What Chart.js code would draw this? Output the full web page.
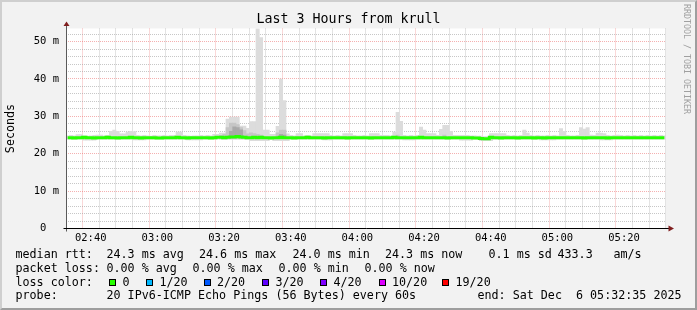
<!DOCTYPE html>
<html>
<head>
<meta charset="utf-8">
<title>Last 3 Hours from krull</title>
<script src="https://cdn.jsdelivr.net/npm/chart.js@4.4.1/dist/chart.umd.min.js"></script>
<style>
  html, body { margin: 0; padding: 0; background: #f2f2f2; }
  #wrap { position: relative; width: 697px; height: 310px; overflow: hidden; }
  #frame { position: absolute; left: 0; top: 0; width: 697px; height: 310px; box-sizing: border-box;
           border: 2px solid; border-color: #cfcfcf #9e9e9e #9e9e9e #cfcfcf; background: #f2f2f2; }
  canvas { position: absolute; left: 0; top: 0; }
  .t { position: absolute; font-family: 'DejaVu Sans Mono', monospace; font-size: 11.7px; line-height: 14px;
       white-space: pre; color: #000; }
  #title { left: 0; width: 697px; top: 11px; text-align: center; font-size: 13.3px; line-height: 16px; }
  #mark { left: 682px; top: 4px; writing-mode: vertical-rl; font-size: 8.3px; line-height: 10px; color: #a0a0a0; }
  .box { position: absolute; width: 5px; height: 5px; border: 1px solid #000; }
</style>
</head>
<body>
<div id="wrap">
  <div id="frame"></div>
  <canvas id="chart" width="697" height="310"></canvas>
  <div class="t" id="title">Last 3 Hours from krull</div>
  <div class="t" id="mark">RRDTOOL / TOBI OETIKER</div>
</div>
<script>
// debut du graphe : 02:32:35, un point par minute (180 points)
const startClock = "02:32:35";
const tickLabels = ["02:40", "03:00", "03:20", "03:40", "04:00", "04:20", "04:40", "05:00", "05:20"];

// median rtt (ms)
const median = [
  24.3, 24.3, 24.2, 24.3, 24.3, 24.4, 24.3, 24.3, 24.2, 24.3, 24.3, 24.3, 24.4, 24.3, 24.3, 24.2, 24.3, 24.3, 24.3, 24.4,
  24.3, 24.3, 24.2, 24.3, 24.3, 24.3, 24.3, 24.2, 24.2, 24.3, 24.3, 24.3, 24.3, 24.4, 24.3, 24.3, 24.2, 24.3, 24.3, 24.3,
  24.3, 24.3, 24.3, 24.2, 24.3, 24.4, 24.4, 24.3, 24.4, 24.5, 24.5, 24.6, 24.5, 24.4, 24.3, 24.3, 24.4, 24.3, 24.4, 24.3,
  24.3, 24.2, 24.3, 24.3, 24.4, 24.3, 24.3, 24.3, 24.2, 24.3, 24.3, 24.3, 24.4, 24.3, 24.3, 24.3, 24.3, 24.2, 24.3, 24.3,
  24.3, 24.3, 24.3, 24.3, 24.2, 24.3, 24.3, 24.3, 24.3, 24.3, 24.3, 24.2, 24.3, 24.3, 24.3, 24.3, 24.3, 24.3, 24.4, 24.3,
  24.3, 24.3, 24.3, 24.3, 24.3, 24.3, 24.4, 24.3, 24.3, 24.3, 24.3, 24.3, 24.3, 24.3, 24.2, 24.3, 24.3, 24.3, 24.3, 24.3,
  24.3, 24.3, 24.2, 24.2, 24.1, 24.0, 24.0, 24.4, 24.3, 24.3, 24.2, 24.3, 24.3, 24.3, 24.3, 24.2, 24.3, 24.3, 24.3, 24.3,
  24.2, 24.3, 24.3, 24.2, 24.3, 24.3, 24.3, 24.3, 24.3, 24.3, 24.3, 24.3, 24.3, 24.3, 24.3, 24.2, 24.3, 24.3, 24.3, 24.3,
  24.3, 24.3, 24.2, 24.3, 24.3, 24.3, 24.3, 24.3, 24.3, 24.3, 24.3, 24.3, 24.3, 24.3, 24.3, 24.3, 24.3, 24.3, 24.3, 24.3
];

// fumee : ping le plus haut et le plus bas de chaque minute (ms)
const smokeHi = [
  24.8, 24.9, 24.8, 25.1, 25.1, 24.8, 24.7, 24.8, 24.9, 25.0, 25.0, 24.8, 24.9, 26.0, 26.3, 26.0, 25.3, 25.3, 25.8, 26.0,
  25.9, 24.9, 24.8, 24.9, 24.8, 24.7, 24.9, 24.8, 24.8, 24.9, 24.8, 24.9, 24.9, 25.8, 25.8, 24.9, 24.8, 24.7, 24.8, 24.8,
  24.9, 24.8, 24.9, 24.8, 25.2, 25.2, 25.5, 25.5, 29.3, 29.8, 29.8, 29.8, 27.4, 27.4, 26.8, 28.6, 28.6, 53.5, 51.1, 26.3,
  26.3, 25.2, 25.2, 27.3, 40.0, 34.2, 25.3, 24.9, 24.8, 25.4, 25.4, 24.8, 24.9, 24.8, 25.4, 25.4, 25.4, 25.4, 25.4, 24.9,
  24.8, 24.9, 24.8, 25.4, 25.4, 25.4, 24.9, 24.8, 24.8, 24.9, 24.8, 25.4, 25.4, 25.4, 24.9, 24.9, 24.9, 24.8, 25.8, 31.1,
  28.7, 24.9, 24.8, 24.9, 24.8, 24.9, 27.1, 26.3, 25.4, 25.4, 25.4, 24.9, 26.5, 27.6, 27.6, 26.0, 24.9, 24.9, 24.9, 24.9,
  24.9, 24.8, 24.8, 24.7, 24.7, 24.6, 24.6, 25.4, 25.4, 25.4, 25.4, 25.4, 24.9, 24.8, 24.9, 24.8, 24.9, 26.3, 25.5, 24.9,
  24.8, 24.9, 24.8, 24.8, 24.9, 24.8, 24.9, 24.8, 26.7, 26.0, 24.9, 24.8, 24.8, 24.9, 27.0, 26.6, 27.0, 25.0, 24.9, 25.5,
  25.5, 25.4, 24.9, 24.8, 24.9, 25.0, 24.9, 24.8, 24.9, 24.8, 24.9, 24.8, 24.9, 24.8, 24.9, 24.8, 24.9, 24.8, 24.9, 24.8
];
const smokeLo = [
  23.9, 23.9, 23.9, 23.9, 23.9, 23.6, 23.6, 23.6, 23.6, 23.9, 23.9, 23.9, 23.9, 23.9, 23.9, 23.9, 23.9, 23.9, 23.9, 23.9,
  23.7, 23.7, 23.7, 23.7, 23.9, 23.9, 23.9, 23.9, 23.9, 23.9, 23.9, 23.9, 23.9, 23.9, 23.9, 23.9, 23.7, 23.7, 23.7, 23.7,
  23.7, 23.9, 23.9, 23.9, 23.9, 23.9, 23.8, 23.8, 23.8, 23.8, 23.8, 23.8, 23.8, 23.8, 23.8, 23.5, 23.5, 23.5, 23.5, 23.5,
  23.5, 23.9, 23.5, 23.5, 23.5, 23.5, 23.5, 23.9, 23.9, 23.9, 23.9, 23.9, 23.9, 23.9, 23.9, 23.9, 23.9, 23.7, 23.7, 23.7,
  23.9, 23.9, 23.9, 23.9, 23.9, 23.9, 23.9, 23.9, 23.9, 23.9, 23.9, 23.9, 23.9, 23.9, 23.9, 23.9, 23.9, 23.9, 23.9, 23.9,
  23.9, 23.7, 23.7, 23.7, 23.7, 23.9, 23.9, 23.9, 23.9, 23.9, 23.9, 23.9, 23.9, 23.9, 23.9, 23.9, 23.9, 23.9, 23.6, 23.6,
  23.6, 23.6, 23.9, 23.9, 23.5, 23.5, 23.5, 23.5, 23.9, 23.9, 23.9, 23.9, 23.9, 23.9, 23.9, 23.9, 23.9, 23.9, 23.9, 23.9,
  23.9, 23.9, 23.7, 23.7, 23.7, 23.7, 23.7, 23.9, 23.9, 23.9, 23.9, 23.9, 23.9, 23.9, 23.9, 23.9, 23.9, 23.9, 23.9, 23.9,
  23.7, 23.7, 23.7, 23.7, 23.9, 23.9, 23.9, 23.9, 23.9, 23.9, 23.9, 23.9, 23.9, 23.9, 23.9, 23.9, 23.9, 23.9, 23.9, 23.9
];

// fumee plus dense : [minute, bas, haut]
const smokeMid = [
  [46, 24.0, 24.9], [47, 24.0, 25.2], [48, 24.1, 27.0], [49, 24.1, 28.2], [50, 24.1, 28.2], [51, 24.2, 27.8],
  [52, 24.1, 27.0], [53, 24.1, 26.2], [54, 24.0, 25.3], [55, 24.0, 25.6], [56, 24.0, 25.4], [57, 24.0, 25.2],
  [58, 24.0, 25.0], [63, 24.0, 25.6], [64, 24.0, 26.3], [65, 24.0, 26.3], [99, 24.0, 25.0], [113, 24.0, 25.0]
];
const smokeCore = [
  [49, 24.2, 26.0], [50, 24.2, 27.2], [51, 24.3, 27.0], [52, 24.2, 26.4], [64, 24.1, 25.2], [65, 24.1, 25.0]
];

const GRID = "rgba(143,143,143,0.5)";
const MGRID = "rgba(230,80,80,0.45)";
const FONT = "DejaVu Sans Mono";

function clockToMin(s) {
    const p = s.split(":").map(Number);
    return p[0] * 60 + p[1] + (p[2] || 0) / 60;
}
const t0 = clockToMin(startClock);
function minToClock(m) {
    const v = Math.round(t0 + m);
    const h = Math.floor(v / 60), mm = v % 60;
    return String(h).padStart(2, "0") + ":" + String(mm).padStart(2, "0");
}

// grille : toutes les 5 minutes en x, tous les 2 ms en y
const xGrid = [];
for (let m = Math.ceil(t0 / 5) * 5; m < t0 + 180; m += 5) xGrid.push(m - t0);
const yGrid = [];
for (let v = 0; v <= 52; v += 2) yGrid.push(v);

function xGridColor(c) {
    if (!c.tick) return GRID;
    return tickLabels.includes(minToClock(c.tick.value)) ? MGRID : GRID;
}
function yGridColor(c) {
    if (!c.tick || c.tick.value === 0) return "rgba(0,0,0,0)";
    return c.tick.value % 10 === 0 ? MGRID : GRID;
}

const rrdFrame = {
    id: "rrdFrame",
    beforeDraw(chart) {
        const { ctx, chartArea: a } = chart;
        ctx.save();
        ctx.fillStyle = "#ffffff";
        ctx.fillRect(a.left, a.top, a.right - a.left, a.bottom - a.top);
        ctx.restore();
    },
    afterDraw(chart) {
        const { ctx, chartArea: a } = chart;
        const l = Math.round(a.left) + 0.5, b = Math.floor(a.bottom) + 0.5;
        ctx.save();
        ctx.lineWidth = 1;
        // axe y
        ctx.strokeStyle = "#5a5a5a";
        ctx.beginPath(); ctx.moveTo(l, a.top - 4); ctx.lineTo(l, b + 3); ctx.stroke();
        // axe x
        ctx.strokeStyle = "#000000";
        ctx.beginPath(); ctx.moveTo(l - 3, b); ctx.lineTo(a.right + 3, b); ctx.stroke();
        // fleches
        ctx.fillStyle = "#801f1f";
        ctx.beginPath(); ctx.moveTo(l, a.top - 7); ctx.lineTo(l - 3, a.top - 2.5); ctx.lineTo(l + 3, a.top - 2.5); ctx.closePath(); ctx.fill();
        ctx.beginPath(); ctx.moveTo(a.right + 8, b); ctx.lineTo(a.right + 2.5, b - 3); ctx.lineTo(a.right + 2.5, b + 3); ctx.closePath(); ctx.fill();
        ctx.restore();
    }
};

// legende du bas (construite avant le graphe)
const legendRows = [
    [247, [[15.5, "median rtt:"], [106.5, "24.3 ms avg"], [199, "24.6 ms max"], [292.5, "24.0 ms min"], [385, "24.3 ms now"], [488.5, "0.1 ms sd"], [557.5, "433.3"], [613.5, "am/s"]]],
    [261, [[15.5, "packet loss:"], [106.5, "0.00 % avg"], [192.5, "0.00 % max"], [278.5, "0.00 % min"], [364.5, "0.00 % now"]]],
    [274.5, [[15.5, "loss color:"]]],
    [288, [[15.5, "probe:"], [106.5, "20 IPv6-ICMP Echo Pings (56 Bytes) every 60s"], [477.5, "end: Sat Dec  6 05:32:35 2025"]]]
];
const lossLabels = ["0", "1/20", "2/20", "3/20", "4/20", "10/20", "19/20"];
const lossColors = ["#26ff00", "#00b8ff", "#0059ff", "#5e00ff", "#7e00ff", "#dd00ff", "#ff0000"];
const lossBoxX = [109, 146, 203.5, 262, 320, 378.5, 442];

const wrap = document.getElementById("wrap");
legendRows.forEach(([top, items]) => {
    items.forEach(([x, text]) => {
        const d = document.createElement("div");
        d.className = "t";
        d.style.left = x + "px";
        d.style.top = top + "px";
        d.textContent = text;
        wrap.appendChild(d);
    });
});
lossLabels.forEach((lab, i) => {
    const b = document.createElement("div");
    b.className = "box";
    b.style.left = lossBoxX[i] + "px";
    b.style.top = "279px";
    b.style.background = lossColors[i];
    wrap.appendChild(b);
    const d = document.createElement("div");
    d.className = "t";
    d.style.left = (lossBoxX[i] + 13.5) + "px";
    d.style.top = "274.5px";
    d.textContent = lab;
    wrap.appendChild(d);
});

const ctx = document.getElementById("chart");
new Chart(ctx, {
    type: "bar",
    data: {
        datasets: [
            {
                type: "line",
                label: "median rtt",
                data: median.map((v, i) => ({ x: i + 0.5, y: v })),
                borderColor: "#26ff00",
                borderWidth: 3,
                pointRadius: 0,
                stepped: "middle",
                order: 0
            },
            {
                label: "core",
                data: smokeCore.map(d => ({ x: d[0] + 0.5, y: [d[1], d[2]] })),
                backgroundColor: "#a9a9a9",
                order: 1
            },
            {
                label: "mid",
                data: smokeMid.map(d => ({ x: d[0] + 0.5, y: [d[1], d[2]] })),
                backgroundColor: "#c6c6c6",
                order: 2
            },
            {
                label: "smoke",
                data: smokeHi.map((v, i) => ({ x: i + 0.5, y: [smokeLo[i], v] })),
                backgroundColor: "#dcdcdc",
                order: 3
            }
        ]
    },
    options: {
        responsive: false,
        devicePixelRatio: 1,
        animation: false,
        layout: { padding: { left: 0, right: 31, top: 28.5, bottom: 61.5 } },
        datasets: { bar: { grouped: false, barPercentage: 1, categoryPercentage: 1, borderWidth: 0 } },
        plugins: { legend: { display: false }, tooltip: { enabled: false }, title: { display: false } },
        scales: {
            x: {
                type: "linear",
                min: 0,
                max: 180,
                offset: false,
                afterBuildTicks: s => { s.ticks = xGrid.map(v => ({ value: v })); },
                afterFit: s => { s.height = 20; },
                ticks: {
                    autoSkip: false,
                    maxRotation: 0,
                    padding: 3,
                    color: "#000",
                    font: { family: FONT, size: 10.5 },
                    callback: v => {
                        const c = minToClock(v);
                        return tickLabels.includes(c) ? c : "";
                    }
                },
                grid: { drawTicks: false, lineWidth: 1, color: xGridColor },
                border: { display: false, dash: [1, 1] }
            },
            y: {
                min: 0,
                max: 53.5,
                afterBuildTicks: s => { s.ticks = yGrid.map(v => ({ value: v })); },
                afterFit: s => { s.width = 66; },
                ticks: {
                    autoSkip: false,
                    padding: 7,
                    color: "#000",
                    font: { family: FONT, size: 10.5 },
                    callback: v => v % 10 === 0 ? (v === 0 ? "0  " : v + " m") : ""
                },
                grid: { drawTicks: false, lineWidth: 1, color: yGridColor },
                border: { display: false, dash: [1, 1] },
                title: {
                    display: true,
                    text: "Seconds",
                    color: "#000",
                    font: { family: FONT, size: 11.7 },
                    padding: { top: 4, bottom: 0 }
                }
            }
        }
    },
    plugins: [rrdFrame]
});
</script>
</body>
</html>
